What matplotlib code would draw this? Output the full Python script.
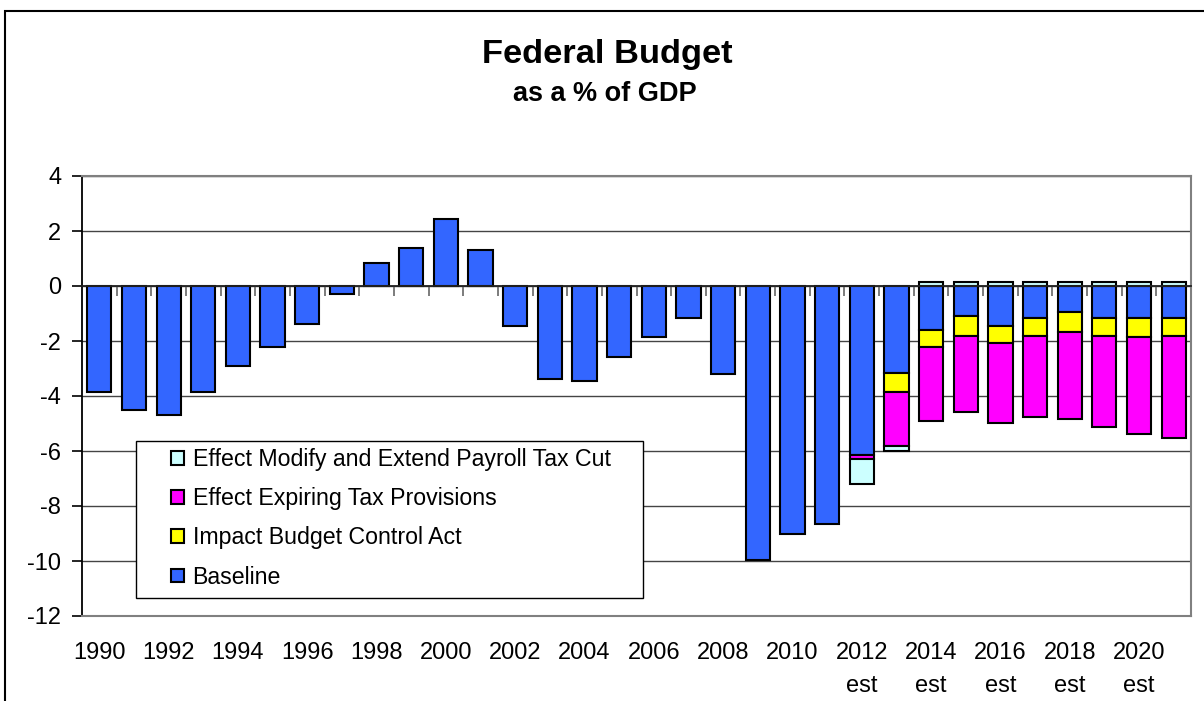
import matplotlib
matplotlib.use('Agg')
import numpy as np
import matplotlib.pyplot as plt
from matplotlib.patches import Rectangle

plt.rcParams['font.family'] = ['Liberation Sans', 'DejaVu Sans']
plt.rcParams['axes.unicode_minus'] = False

years = list(range(1990, 2022))
baseline = [-3.87, -4.50, -4.70, -3.87, -2.90, -2.20, -1.39, -0.28, 0.84, 1.38,
            2.42, 1.32, -1.44, -3.39, -3.47, -2.57, -1.87, -1.18, -3.19, -9.96,
            -9.00, -8.64, -6.15, -3.18, -1.59, -1.10, -1.44, -1.18, -0.96, -1.18,
            -1.18, -1.18]
budget_control = [0] * 23 + [-0.69, -0.63, -0.71, -0.63, -0.63, -0.70, -0.63, -0.69, -0.63]
expiring = [0] * 22 + [-0.14, -1.94, -2.69, -2.76, -2.90, -2.95, -3.18, -3.31, -3.51, -3.72]
payroll = [0] * 22 + [-0.91, -0.19, 0.15, 0.15, 0.15, 0.15, 0.15, 0.15, 0.15, 0.15]

xtick_labels = ['1990', '1992', '1994', '1996', '1998', '2000', '2002', '2004',
                '2006', '2008', '2010', '2012\nest', '2014\nest', '2016\nest',
                '2018\nest', '2020\nest']
ytick_values = [-12, -10, -8, -6, -4, -2, 0, 2, 4]
ytick_labels = ['-12', '-10', '-8', '-6', '-4', '-2', '0', '2', '4']

series = [
    (baseline, '#3366FF', 'Baseline'),
    (budget_control, '#FFFF00', 'Impact Budget Control Act'),
    (expiring, '#FF00FF', 'Effect Expiring Tax Provisions'),
    (payroll, '#CCFFFF', 'Effect Modify and Extend Payroll Tax Cut'),
]

W, H = 1204, 701
fig = plt.figure(figsize=(W / 100, H / 100), dpi=100)
fig.patch.set_facecolor('white')
AX_L, AX_R, AX_T, AX_B = 82, 1191, 176, 616
rect_ax = [AX_L / W, 1 - AX_B / H, (AX_R - AX_L) / W, (AX_B - AX_T) / H]
ax = fig.add_axes(rect_ax)

n = len(years)
x = np.arange(n)
pos = np.zeros(n)
neg = np.zeros(n)
handles = []
for vals, color, label in series:
    v = np.array(vals, dtype=float)
    bottom = np.where(v >= 0, pos, neg)
    m = v != 0
    b = ax.bar(x[m], v[m], 0.7, bottom=bottom[m], color=color,
               edgecolor='black', linewidth=1.5, label=label, zorder=3)
    pos += np.where(v > 0, v, 0)
    neg += np.where(v < 0, v, 0)
    handles.append(b)

ax.set_xlim(-0.5, n - 0.5)
ax.set_ylim(-12, 4)
ax.set_yticks(ytick_values)
ax.set_yticklabels(ytick_labels, fontsize=17)
ax.set_xticks(x[::2])
ax.set_xticklabels(xtick_labels, fontsize=17, linespacing=1.6)
ax.tick_params(axis='x', length=0, pad=19)
ax.tick_params(axis='y', direction='out', length=7, width=1.2, pad=8, color='black')
ax.yaxis.grid(True, color='#444444', linewidth=1.0, zorder=0)
ax.set_axisbelow(True)
for s in ['top', 'right', 'bottom']:
    ax.spines[s].set_color('#808080')
    ax.spines[s].set_linewidth(1.5)
ax.spines['left'].set_color('black')
ax.spines['left'].set_linewidth(1.3)

# legend box (frame drawn separately for Excel-like padding)
pw, ph = AX_R - AX_L, AX_B - AX_T
box = Rectangle(((136 - AX_L) / pw, (AX_B - 598) / ph), 507 / pw, 157 / ph,
                transform=ax.transAxes, facecolor='white', edgecolor='black',
                linewidth=1.0, zorder=4)
ax.add_patch(box)
leg = ax.legend(handles[::-1], [s[2] for s in series][::-1], loc='upper left',
                bbox_to_anchor=((171 - AX_L) / pw, (AX_B - 448) / ph), fontsize=16.7,
                frameon=False, borderpad=0, handlelength=0.55, handleheight=0.55,
                handletextpad=0.38, labelspacing=0.7, borderaxespad=0)
leg.set_zorder(5)

# zero-line axis with category boundary ticks
ax0 = fig.add_axes(rect_ax, facecolor='none')
ax0.set_xlim(-0.5, n - 0.5)
ax0.set_ylim(-12, 4)
ax0.set_yticks([])
for s in ['top', 'left', 'right']:
    ax0.spines[s].set_visible(False)
ax0.spines['bottom'].set_position(('data', 0))
ax0.spines['bottom'].set_color('#222222')
ax0.spines['bottom'].set_linewidth(1.3)
ax0.set_xticks(x[:-1] + 0.5)
ax0.set_xticklabels([])
ax0.tick_params(axis='x', direction='out', length=7, width=1.2, color='#666666')

fig.text(607 / W, 1 - 55 / H, 'Federal Budget', ha='center', va='center',
         fontsize=24.8, fontweight='bold')
fig.text(605 / W, 1 - 94 / H, 'as a % of GDP', ha='center', va='center',
         fontsize=19.5, fontweight='bold')

frame = Rectangle((5 / W, -0.5), 2.0, 0.5 + (1 - 11 / H), transform=fig.transFigure,
                  fill=False, edgecolor='black', linewidth=1.5, clip_on=False)
fig.add_artist(frame)

fig.savefig('out.png', dpi=100)
